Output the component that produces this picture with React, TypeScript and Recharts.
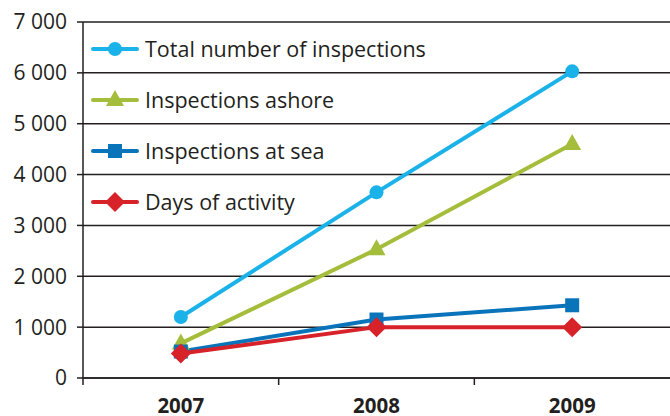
import React from 'react';
import { LineChart, Line, XAxis, YAxis, CartesianGrid } from 'recharts';

const years = ['2007', '2008', '2009'];
const totalInspections = [1200, 3650, 6030];
const inspectionsAshore = [680, 2530, 4600];
const inspectionsAtSea = [520, 1150, 1430];
const daysOfActivity = [480, 1000, 1000];
const yTicks = [0, 1000, 2000, 3000, 4000, 5000, 6000, 7000];

const INK = '#231f20';
const FONT = '"Open Sans", sans-serif';

const seriesList = [
  { key: 'total', name: 'Total number of inspections', color: '#1ab2e8', shape: 'circle' },
  { key: 'ashore', name: 'Inspections ashore', color: '#a4bd3a', shape: 'triangle' },
  { key: 'sea', name: 'Inspections at sea', color: '#0a74bb', shape: 'square' },
  { key: 'days', name: 'Days of activity', color: '#d7222a', shape: 'diamond' },
];

const data = years.map((year, i) => ({
  year,
  total: totalInspections[i],
  ashore: inspectionsAshore[i],
  sea: inspectionsAtSea[i],
  days: daysOfActivity[i],
}));

const WIDTH = 670;
const HEIGHT = 416;
const Y_AXIS_W = 83;
const HALF_STEP = (WIDTH - Y_AXIS_W) / (years.length * 2);

const Marker = ({ shape, cx, cy, color }: any) => {
  if (cx == null || cy == null) return null;
  if (shape === 'circle') return <circle cx={cx} cy={cy} r={7} fill={color} />;
  if (shape === 'square') return <rect x={cx - 7} y={cy - 7} width={14} height={14} fill={color} />;
  if (shape === 'triangle')
    return <polygon points={`${cx},${cy - 10} ${cx + 9},${cy + 6} ${cx - 9},${cy + 6}`} fill={color} />;
  return <polygon points={`${cx},${cy - 10} ${cx + 10},${cy} ${cx},${cy + 10} ${cx - 10},${cy}`} fill={color} />;
};

const formatThousands = (v: number) => String(v).replace(/\B(?=(\d{3})+(?!\d))/g, ' ');

const YearTick = ({ x, y, payload }: any) => (
  <g>
    <line x1={x - HALF_STEP} y1={y - 8} x2={x - HALF_STEP} y2={y - 1} stroke={INK} strokeWidth={1.5} />
    <text x={x} y={y + 27} textAnchor="middle" fontFamily={FONT} fontWeight={700} fontSize={20.5} fill={INK}>
      {payload.value}
    </text>
  </g>
);

// legend sits inside the plot, top-left
const LegendBox = () => (
  <div style={{ position: 'absolute', left: 91, top: 23, fontFamily: FONT, fontSize: 21.5, color: INK }}>
    {seriesList.map((s) => (
      <div key={s.key} style={{ display: 'flex', alignItems: 'center', height: 51 }}>
        <svg width={50} height={24} style={{ marginRight: 4 }}>
          <line x1={2} y1={12} x2={46} y2={12} stroke={s.color} strokeWidth={4} strokeLinecap="round" />
          <Marker shape={s.shape} cx={24} cy={12} color={s.color} />
        </svg>
        <span>{s.name}</span>
      </div>
    ))}
  </div>
);

export default function App() {
  return (
    <div style={{ position: 'absolute', left: 0, top: 0, width: WIDTH, height: HEIGHT, background: '#fff' }}>
      <LineChart width={WIDTH} height={HEIGHT} data={data} margin={{ top: 22, right: 0, bottom: 0, left: 0 }}>
        <CartesianGrid vertical={false} stroke={INK} strokeWidth={1.5} />
        <XAxis
          dataKey="year"
          height={38}
          padding={{ left: HALF_STEP, right: HALF_STEP }}
          axisLine={{ stroke: INK, strokeWidth: 1.5 }}
          tickLine={false}
          tick={<YearTick />}
          interval={0}
        />
        <YAxis
          width={Y_AXIS_W}
          domain={[0, 7000]}
          ticks={yTicks}
          tickFormatter={formatThousands}
          axisLine={{ stroke: INK, strokeWidth: 1.5 }}
          tickLine={{ stroke: INK, strokeWidth: 1.5 }}
          tickSize={6}
          tickMargin={10}
          tick={{ fontFamily: FONT, fontSize: 21, fill: INK }}
        />
        {seriesList.map((s) => (
          <Line
            key={s.key}
            dataKey={s.key}
            name={s.name}
            stroke={s.color}
            strokeWidth={4}
            type="linear"
            isAnimationActive={false}
            dot={(p: any) => <Marker key={`${s.key}-${p.index}`} shape={s.shape} cx={p.cx} cy={p.cy} color={s.color} />}
            activeDot={false}
          />
        ))}
      </LineChart>
      <LegendBox />
    </div>
  );
}
